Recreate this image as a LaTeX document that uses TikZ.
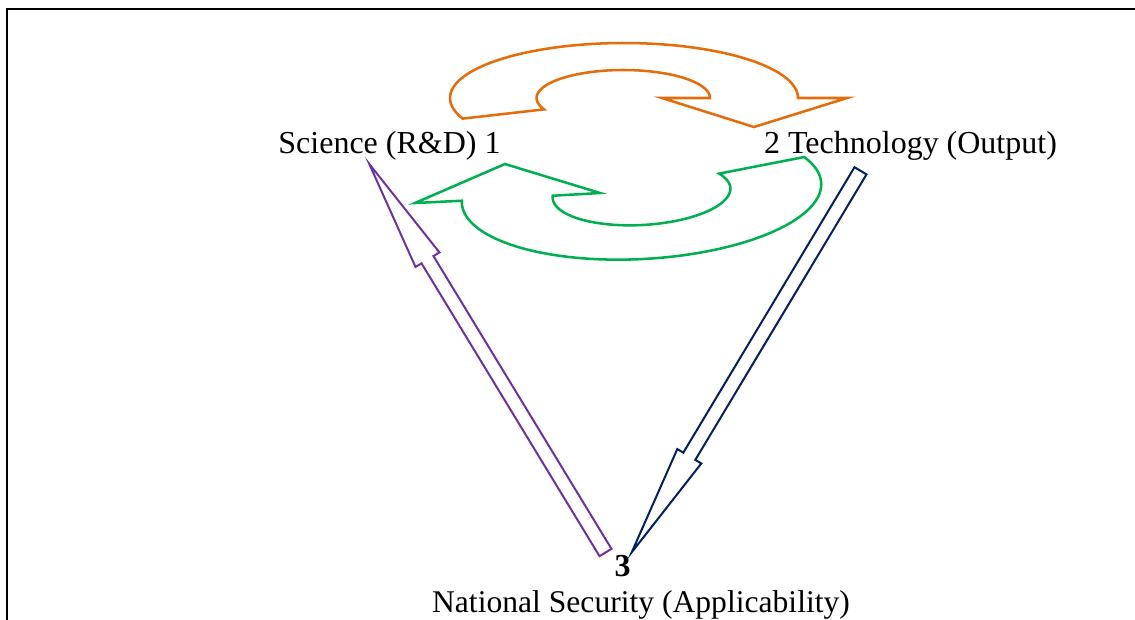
\documentclass[tikz,border=0pt]{standalone}
\usepackage{fontspec}
\setmainfont{Liberation Serif}
\usetikzlibrary{calc}
\definecolor{arcorange}{HTML}{E46C0A}
\definecolor{arcgreen}{HTML}{00B050}
\definecolor{headpurple}{HTML}{7030A0}
\definecolor{headnavy}{HTML}{002060}
\begin{document}
\begin{tikzpicture}[x=0.75pt,y=-0.75pt,
  lbl/.style={font=\fontsize{24}{28}\selectfont, inner sep=0pt, anchor=base},
  frameline/.style={line width=1.5pt, draw=black},
  curvedarrow/.style={line width=1.9pt, line join=miter, miter limit=10},
  blockarrow/.style={line width=1.5pt, line join=miter, miter limit=10}]
\useasboundingbox (0,0) rectangle (1135,619);

% page frame (top and left edges)
\draw[frameline] (7,630) -- (7,9) -- (1145,9);

% labels
\node[lbl] (sci)    at (389.5,153) {Science (R\&D) 1};
\node[lbl] (tech)   at (910.5,153) {2 Technology (Output)};
\node[lbl] (three)  at (622.5,576) {\bfseries 3};
\node[lbl, font=\fontsize{23.7}{28}\selectfont] (natsec) at (641,612.5) {National Security (Applicability)};

% curved arrow: science -> technology (over the top)
\draw[curvedarrow, draw=arcorange]
  plot[domain=158:360, samples=90, variable=\t] ({624+174*cos(\t)}, {98+55*sin(\t)})
  -- (847,98) -- (754,127) -- (662,98)
  -- plot[domain=360:156, samples=90, variable=\t] ({623.3+86.7*cos(\t)}, {98+28*sin(\t)})
  -- cycle;

% curved arrow: technology -> science (underneath), slightly tilted
\draw[curvedarrow, draw=arcgreen]
  plot[domain=-24:182, samples=90, variable=\t]
    ({641.5+180*cos(\t)*cos(3.2)+66*sin(\t)*sin(3.2)},
     {193-180*cos(\t)*sin(3.2)+66*sin(\t)*cos(3.2)})
  -- (415,203) -- (505,164) -- (600,193)
  -- plot[domain=184:-28, samples=90, variable=\t]
    ({641.5+89*cos(\t)*cos(3.2)+32*sin(\t)*sin(3.2)},
     {193-89*cos(\t)*sin(3.2)+32*sin(\t)*cos(3.2)})
  -- cycle;

% block arrow ends
\coordinate (pTail) at (605.5,552.5);
\coordinate (pTip)  at (369.3,164);
\coordinate (nTail) at (860.5,170.8);
\coordinate (nTip)  at (631.7,552.3);
\coordinate (pBase) at ($(pTip)!84pt!(pTail)$);
\coordinate (nBase) at ($(nTip)!84pt!(nTail)$);

% block arrow: national security -> science
\draw[blockarrow, draw=headpurple]
  ($(pTail)!5.25pt!90:(pTip)$) -- ($(pBase)!5.25pt!-90:(pTail)$)
  -- ($(pBase)!10.5pt!-90:(pTail)$) -- (pTip)
  -- ($(pBase)!10.5pt!90:(pTail)$) -- ($(pBase)!5.25pt!90:(pTail)$)
  -- ($(pTail)!5.25pt!-90:(pTip)$) -- cycle;

% block arrow: technology -> national security
\draw[blockarrow, draw=headnavy]
  ($(nTail)!5.25pt!90:(nTip)$) -- ($(nBase)!5.25pt!-90:(nTail)$)
  -- ($(nBase)!10.5pt!-90:(nTail)$) -- (nTip)
  -- ($(nBase)!10.5pt!90:(nTail)$) -- ($(nBase)!5.25pt!90:(nTail)$)
  -- ($(nTail)!5.25pt!-90:(nTip)$) -- cycle;
\end{tikzpicture}
\end{document}
